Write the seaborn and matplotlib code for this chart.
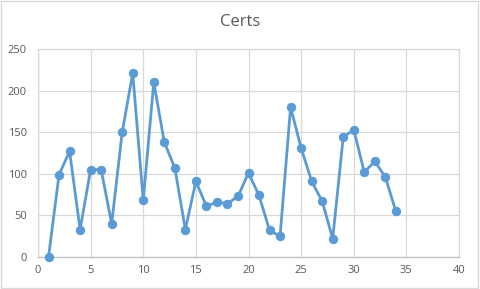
import matplotlib
matplotlib.use("Agg")
import matplotlib.pyplot as plt
import seaborn as sns
import pandas as pd
from matplotlib.patches import Rectangle

x_vals = list(range(1, 35))
certs = [0, 99, 127, 33, 105, 105, 40, 150, 221, 68,
         210, 138, 107, 33, 91, 61, 66, 64, 73, 101,
         74, 32, 25, 180, 131, 91, 67, 22, 144, 153,
         102, 115, 96, 55]
x_ticks = [0, 5, 10, 15, 20, 25, 30, 35, 40]
y_ticks = [0, 50, 100, 150, 200, 250]
title = "Certs"

df = pd.DataFrame({"x": x_vals, "y": certs})

sns.set_theme(style="white")
plt.rcParams["font.family"] = ["Open Sans", "DejaVu Sans"]

fig = plt.figure(figsize=(4.8, 2.89), dpi=100)
ax = fig.add_axes([38/480, 1 - 257/289, (459-38)/480, (257-49)/289])

color = "#5B9BD5"
sns.lineplot(data=df, x="x", y="y", ax=ax, color=color, linewidth=2.0,
             marker="o", markersize=6, markeredgecolor=color,
             markerfacecolor=color, clip_on=False, zorder=3)

ax.set_xlim(0, 40)
ax.set_ylim(0, 250)
ax.set_xticks(x_ticks)
ax.set_yticks(y_ticks)
ax.grid(True, color="#D9D9D9", linewidth=0.9)
ax.set_axisbelow(True)
for s in ["top", "right", "left"]:
    ax.spines[s].set_visible(True)
    ax.spines[s].set_color("#D9D9D9")
    ax.spines[s].set_linewidth(0.9)
ax.spines["bottom"].set_color("#BFBFBF")
ax.spines["bottom"].set_linewidth(0.9)
ax.tick_params(axis="both", length=0, labelsize=8, labelcolor="#595959")
ax.tick_params(axis="x", pad=6)
ax.tick_params(axis="y", pad=8)
ax.set_xlabel("")
ax.set_ylabel("")

fig.text(0.5, 1 - 22/289, title, ha="center", va="center",
         fontsize=12, color="#595959")

fig.patches.append(Rectangle((0.002, 0.003), 0.994, 0.994, transform=fig.transFigure,
                             fill=False, edgecolor="#D9D9D9", linewidth=1))

fig.savefig("out.png", dpi=100)
